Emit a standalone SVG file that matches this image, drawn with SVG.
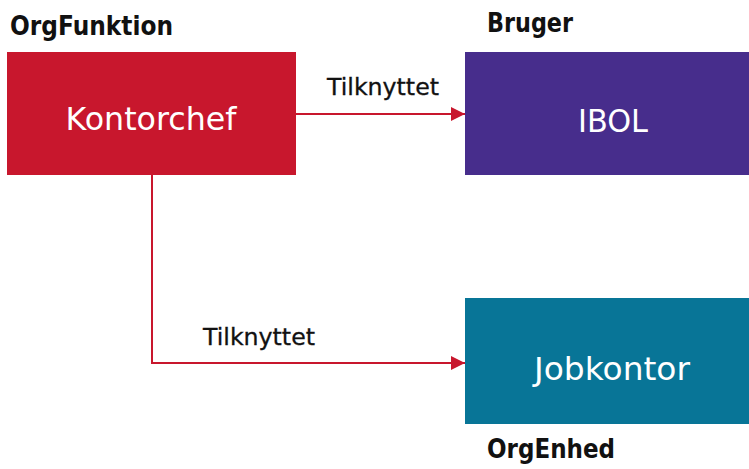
<svg xmlns="http://www.w3.org/2000/svg" width="749" height="469" viewBox="0 0 749 469">
<style>
.lbl{font-family:"DejaVu Sans",Verdana,sans-serif;fill:#111;font-weight:bold;font-size:26px}
.rel{font-family:"DejaVu Sans",Verdana,sans-serif;fill:#111;font-size:23px;stroke:#111;stroke-width:0.3}
.nt{font-family:"DejaVu Sans",Verdana,sans-serif;fill:#fff;font-size:32px;text-anchor:middle}
.con{fill:none;stroke:#C8172D;stroke-width:2}
</style>
<defs>
<marker id="ah" viewBox="0 0 10 10" refX="10" refY="5" markerWidth="7" markerHeight="7" orient="auto" markerUnits="strokeWidth">
<path d="M0,0 L10,5 L0,10 z" fill="#C8172D"/>
</marker>
</defs>
<rect width="749" height="469" fill="#fff"/>
<g id="connectors">
<path class="con" d="M296,114 H465" marker-end="url(#ah)"/>
<path class="con" d="M152,175 V363 H465" marker-end="url(#ah)"/>
<text class="rel" x="327" y="95" textLength="112" lengthAdjust="spacingAndGlyphs">Tilknyttet</text>
<text class="rel" x="203" y="345" textLength="112" lengthAdjust="spacingAndGlyphs">Tilknyttet</text>
</g>
<g id="kontorchef">
<text class="lbl" x="10" y="35" textLength="163" lengthAdjust="spacingAndGlyphs">OrgFunktion</text>
<rect x="7" y="52" width="289" height="123" fill="#C8172D"/>
<text class="nt" x="151" y="130" textLength="171" lengthAdjust="spacingAndGlyphs">Kontorchef</text>
</g>
<g id="ibol">
<text class="lbl" x="487" y="32" textLength="86" lengthAdjust="spacingAndGlyphs">Bruger</text>
<rect x="465" y="52" width="296" height="123" fill="#472D8C"/>
<text class="nt" x="613" y="132" textLength="70" lengthAdjust="spacingAndGlyphs">IBOL</text>
</g>
<g id="jobkontor">
<rect x="465" y="298" width="296" height="126" fill="#087597"/>
<text class="nt" x="612" y="380" textLength="156" lengthAdjust="spacingAndGlyphs">Jobkontor</text>
<text class="lbl" x="487" y="458" textLength="128" lengthAdjust="spacingAndGlyphs">OrgEnhed</text>
</g>
</svg>
